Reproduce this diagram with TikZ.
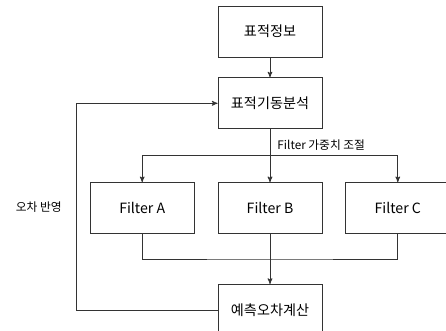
\documentclass[tikz,border=0pt]{standalone}
\usepackage{fontspec}
\setmainfont{Noto Sans CJK KR}
\usepackage{tikz}
\usetikzlibrary{arrows,positioning}

\begin{document}
\begin{tikzpicture}[>=stealth',x=0.75pt,y=-0.75pt,
  line width=0.6pt,draw=black!80,
  main node/.style={rectangle,draw=black!80,fill=white,minimum width=78pt,minimum height=38.25pt,font=\fontsize{10.6}{12}\selectfont},
  lbl/.style={font=\fontsize{8.8}{10}\selectfont,inner sep=2.8pt}]

  \useasboundingbox (0,0) rectangle (446,331);

  \node[main node] (info) at (270,31.5) {표적정보};
  \node[main node] (anal) [below=15pt of info] {표적기동분석};
  \node[main node] (fB) [below=39.75pt of anal] {Filter B};
  \node[main node] (fA) [left=17.25pt of fB] {Filter A};
  \node[main node] (fC) [right=17.25pt of fB] {Filter C};
  \node[main node] (err) [below=37.5pt of fB] {예측오차계산};

  \coordinate[below=19.5pt of anal.south] (split);
  \coordinate[below=18.75pt of fB.south] (merge);
  \coordinate[left=105.75pt of err.west] (fbk);

  \node[lbl, right=2.5pt of split, yshift=7.5pt] (wlbl) {Filter 가중치 조절};
  \node[lbl, left=18pt of fA, yshift=1pt] (flbl) {오차 반영};

  \draw[->] (info) -- (anal);
  \draw (anal) -- (split);
  \draw[->] (split) -| (fA);
  \draw[->] (split) -- (fB);
  \draw[->] (split) -| (fC);
  \draw (fA) |- (merge) -| (fC);
  \draw[->] (fB) -- (err);
  \draw[->] (err.west) -- (fbk) |- (anal.west);
\end{tikzpicture}
\end{document}
